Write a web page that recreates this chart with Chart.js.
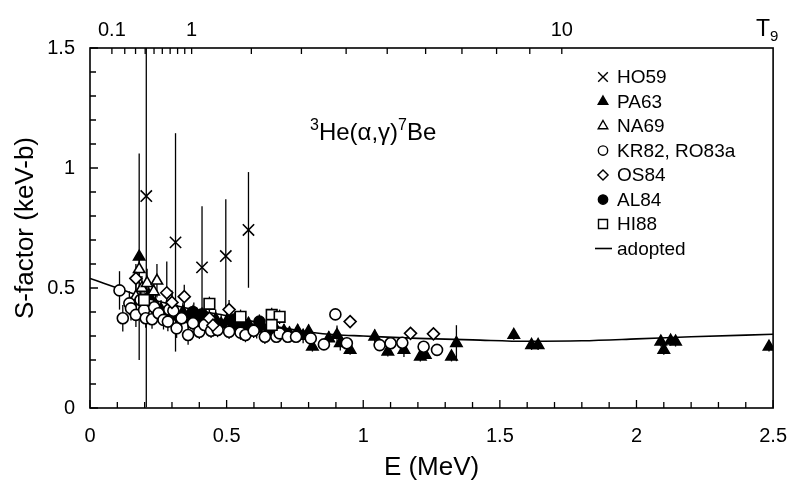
<!DOCTYPE html>
<html>
<head>
<meta charset="utf-8">
<script src="https://cdn.jsdelivr.net/npm/chart.js@4.4.0/dist/chart.umd.min.js"></script>
<style>
html, body { margin: 0; padding: 0; background: #fff; }
</style>
</head>
<body>
<canvas id="sfactorChart" width="803" height="487"></canvas>
<script>
// --- data ---
const ho59E = [0.206, 0.313, 0.41, 0.497, 0.58];
const ho59S = [0.883, 0.69, 0.586, 0.633, 0.742];
const ho59Err = [0.88, 0.455, 0.255, 0.237, 0.241];

const pa63E = [0.18, 0.215, 0.24, 0.26, 0.28, 0.30, 0.32, 0.34, 0.36, 0.38, 0.40, 0.42, 0.44, 0.46, 0.48, 0.50,
  0.52, 0.54, 0.56, 0.58, 0.61, 0.63, 0.65, 0.68, 0.71, 0.73, 0.76, 0.78, 0.80, 0.814, 0.874, 0.904, 0.916,
  0.952, 1.042, 1.09, 1.149, 1.209, 1.227, 1.323, 1.341, 1.551, 1.616, 1.64, 2.089, 2.10, 2.125, 2.143, 2.485];
const pa63S = [0.63, 0.47, 0.43, 0.41, 0.40, 0.42, 0.38, 0.40, 0.37, 0.39, 0.37, 0.38, 0.36, 0.37, 0.35, 0.36,
  0.34, 0.35, 0.34, 0.35, 0.33, 0.34, 0.32, 0.33, 0.32, 0.31, 0.32, 0.30, 0.318, 0.255, 0.29, 0.304, 0.27,
  0.242, 0.297, 0.235, 0.242, 0.214, 0.221, 0.214, 0.27, 0.304, 0.262, 0.262, 0.276, 0.242, 0.28, 0.276, 0.255];
const pa63Err = [0.43, 0.05, 0.05, 0.04, 0.05, 0.06, 0.05, 0.04, 0.04, 0.05, 0.04, 0.05, 0.04, 0.04, 0.04, 0.04,
  0.03, 0.04, 0.04, 0.03, 0.04, 0.03, 0.03, 0.03, 0.03, 0.03, 0.03, 0.03, 0.03, 0.02, 0.03, 0.04, 0.03,
  0.02, 0.03, 0.02, 0.03, 0.02, 0.02, 0.02, 0.075, 0.02, 0.02, 0.02, 0.02, 0.02, 0.02, 0.02, 0.02];

const na69E = [0.18, 0.168, 0.19, 0.209, 0.233, 0.245];
const na69S = [0.578, 0.464, 0.50, 0.52, 0.485, 0.53];
const na69Err = [0.06, 0.05, 0.05, 0.06, 0.05, 0.07];

const kr82E = [0.108, 0.12, 0.144, 0.15, 0.168, 0.185, 0.198, 0.204, 0.227, 0.235, 0.251, 0.269, 0.285, 0.29,
  0.305, 0.317, 0.335, 0.359, 0.377, 0.40, 0.419, 0.443, 0.467, 0.509, 0.551, 0.569, 0.599, 0.64, 0.682,
  0.694, 0.724, 0.754, 0.808, 0.856, 0.898, 0.94, 1.06, 1.10, 1.143, 1.221, 1.27];
const kr82S = [0.49, 0.374, 0.436, 0.415, 0.388, 0.45, 0.408, 0.374, 0.37, 0.42, 0.395, 0.367, 0.36, 0.41,
  0.405, 0.332, 0.374, 0.304, 0.353, 0.318, 0.346, 0.322, 0.325, 0.318, 0.314, 0.304, 0.322, 0.297, 0.297,
  0.311, 0.297, 0.297, 0.29, 0.265, 0.39, 0.27, 0.262, 0.27, 0.272, 0.255, 0.242];
const kr82Err = [0.08, 0.055, 0.05, 0.05, 0.05, 0.05, 0.04, 0.04, 0.04, 0.04, 0.04, 0.04, 0.04, 0.04,
  0.04, 0.04, 0.03, 0.04, 0.03, 0.03, 0.03, 0.03, 0.03, 0.03, 0.03, 0.03, 0.03, 0.03, 0.02,
  0.02, 0.02, 0.02, 0.02, 0.02, 0.02, 0.02, 0.02, 0.02, 0.02, 0.02, 0.02];

const os84E = [0.168, 0.281, 0.30, 0.345, 0.437, 0.45, 0.509, 0.952, 1.173, 1.257];
const os84S = [0.54, 0.48, 0.44, 0.464, 0.374, 0.345, 0.41, 0.36, 0.311, 0.309];
const os84Err = [0.06, 0.13, 0.05, 0.05, 0.04, 0.03, 0.04, 0.02, 0.02, 0.02];

const al84E = [0.377, 0.41, 0.43, 0.53, 0.62];
const al84S = [0.40, 0.39, 0.37, 0.37, 0.36];
const al84Err = [0.03, 0.03, 0.03, 0.03, 0.03];

const hi88E = [0.198, 0.437, 0.551, 0.665, 0.694, 0.665];
const hi88S = [0.45, 0.434, 0.38, 0.388, 0.38, 0.346];
const hi88Err = [0.04, 0.03, 0.03, 0.03, 0.03, 0.03];

const adoptedE = [0, 0.05, 0.1, 0.2, 0.3, 0.4, 0.5, 0.6, 0.7, 0.8, 0.9, 1.0, 1.2, 1.4, 1.6, 1.8, 2.0, 2.2, 2.5];
const adoptedS = [0.54, 0.52, 0.50, 0.46, 0.43, 0.405, 0.385, 0.36, 0.335, 0.317, 0.305, 0.30, 0.29, 0.284, 0.278, 0.28, 0.288, 0.297, 0.307];

const t9Ticks = [0.1, 0.2, 0.3, 0.4, 0.5, 0.6, 0.7, 0.8, 0.9, 1, 2, 3, 4, 5, 6, 7, 8, 9, 10];
const t9Labels = [0.1, 1, 10];

// --- helpers ---
const FONT = '"Liberation Sans", Arial, Helvetica, sans-serif';
const t9ToE = t => 0.372 * Math.pow(t, 2 / 3);   // Gamow peak energy for 3He+4He
const isHalf = v => Math.abs(v * 2 - Math.round(v * 2)) < 1e-6;
const fmt = v => String(Math.round(v * 10) / 10);
const toPoints = (xs, ys) => xs.map((e, i) => ({ x: e, y: ys[i] }));

function markerSet(label, xs, ys, errs, style, radius, filled) {
    return {
        label: label,
        data: toPoints(xs, ys),
        errors: errs,
        pointStyle: style,
        pointRadius: radius,
        pointBorderWidth: 1.6,
        borderColor: '#000',
        backgroundColor: filled ? '#000' : '#fff',
        showLine: false
    };
}

const datasets = [
    markerSet('HO59', ho59E, ho59S, ho59Err, 'crossRot', 8, false),
    markerSet('HI88', hi88E, hi88S, hi88Err, 'rect', 7.5, false),
    markerSet('OS84', os84E, os84S, os84Err, 'rectRot', 6, false),
    markerSet('KR82, RO83a', kr82E, kr82S, kr82Err, 'circle', 5.5, false),
    markerSet('NA69', na69E, na69S, na69Err, 'triangle', 6.5, false),
    markerSet('AL84', al84E, al84S, al84Err, 'circle', 5.5, true),
    markerSet('PA63', pa63E, pa63S, pa63Err, 'triangle', 6.5, true),
    {
        label: 'adopted',
        type: 'line',
        data: toPoints(adoptedE, adoptedS),
        borderColor: '#000',
        borderWidth: 1.6,
        pointRadius: 0,
        cubicInterpolationMode: 'monotone',
        fill: false
    }
];

const legendOrder = ['HO59', 'PA63', 'NA69', 'KR82, RO83a', 'OS84', 'AL84', 'HI88', 'adopted'];

// --- error bars, frame, inward ticks, legend and labels ---
const figureDecor = {
    id: 'figureDecor',
    beforeDatasetsDraw(chart) {
        const { ctx, chartArea: a, scales: { x, y } } = chart;
        ctx.save();
        ctx.beginPath();
        ctx.rect(a.left, a.top, a.right - a.left, a.bottom - a.top);
        ctx.clip();
        ctx.strokeStyle = '#000';
        ctx.lineWidth = 1.3;
        chart.data.datasets.forEach(ds => {
            if (!ds.errors) return;
            ds.data.forEach((p, i) => {
                const px = x.getPixelForValue(p.x);
                ctx.beginPath();
                ctx.moveTo(px, y.getPixelForValue(p.y - ds.errors[i]));
                ctx.lineTo(px, y.getPixelForValue(p.y + ds.errors[i]));
                ctx.stroke();
            });
        });
        ctx.restore();
    },
    afterDraw(chart) {
        const { ctx, chartArea: a, scales: { x, x2, y } } = chart;
        ctx.save();
        ctx.strokeStyle = '#000';
        ctx.fillStyle = '#000';
        ctx.lineWidth = 1.6;
        ctx.strokeRect(a.left, a.top, a.right - a.left, a.bottom - a.top);

        ctx.lineWidth = 1.3;
        ctx.beginPath();
        x.ticks.forEach(t => {
            const px = x.getPixelForValue(t.value);
            ctx.moveTo(px, a.bottom);
            ctx.lineTo(px, a.bottom - (isHalf(t.value) ? 8 : 6));
        });
        y.ticks.forEach(t => {
            const py = y.getPixelForValue(t.value);
            ctx.moveTo(a.left, py);
            ctx.lineTo(a.left + (isHalf(t.value) ? 8 : 6), py);
        });
        x2.ticks.forEach(t => {
            const px = x2.getPixelForValue(t.value);
            ctx.moveTo(px, a.top);
            ctx.lineTo(px, a.top + 6);
        });
        ctx.stroke();

        // legend
        const lx = 603, ly = 77, step = 24.5;
        ctx.font = '19px ' + FONT;
        ctx.textBaseline = 'middle';
        ctx.textAlign = 'left';
        legendOrder.forEach((name, i) => {
            const ds = chart.data.datasets.find(d => d.label === name);
            const yy = ly + i * step;
            ctx.strokeStyle = '#000';
            if (ds.type === 'line') {
                ctx.lineWidth = 1.6;
                ctx.beginPath();
                ctx.moveTo(lx - 8, yy);
                ctx.lineTo(lx + 9, yy);
                ctx.stroke();
            } else {
                ctx.fillStyle = ds.backgroundColor;
                ctx.lineWidth = 1.4;
                Chart.helpers.drawPoint(ctx, {
                    pointStyle: ds.pointStyle,
                    radius: ds.pointRadius * 0.85,
                    borderWidth: 1.4,
                    rotation: 0
                }, lx, yy);
            }
            ctx.fillStyle = '#000';
            ctx.fillText(name, lx + 14, yy + 1);
        });

        // reaction label
        let tx = 310;
        const base = 140;
        ctx.textBaseline = 'alphabetic';
        ctx.font = '16px ' + FONT;
        ctx.fillText('3', tx, base - 10);
        tx += ctx.measureText('3').width;
        ctx.font = '24px ' + FONT;
        ctx.fillText('He(\u03b1,\u03b3)', tx, base);
        tx += ctx.measureText('He(\u03b1,\u03b3)').width;
        ctx.font = '16px ' + FONT;
        ctx.fillText('7', tx, base - 10);
        tx += ctx.measureText('7').width;
        ctx.font = '24px ' + FONT;
        ctx.fillText('Be', tx, base);

        // T9 label
        ctx.font = '23px ' + FONT;
        ctx.fillText('T', 756, 36);
        ctx.font = '15px ' + FONT;
        ctx.fillText('9', 770, 41);
        ctx.restore();
    }
};

const ctx = document.getElementById('sfactorChart').getContext('2d');
new Chart(ctx, {
    type: 'scatter',
    data: { datasets: datasets },
    options: {
        responsive: false,
        animation: false,
        events: [],
        layout: { padding: { left: 0, right: 17, top: 0, bottom: 0 } },
        plugins: { legend: { display: false }, tooltip: { enabled: false } },
        scales: {
            x: {
                type: 'linear', position: 'bottom', min: 0, max: 2.5,
                grid: { display: false, drawTicks: false },
                border: { display: false },
                ticks: {
                    stepSize: 0.1, autoSkip: false, maxRotation: 0, padding: 16,
                    color: '#000', font: { family: FONT, size: 20 },
                    callback: v => isHalf(v) ? fmt(v) : ''
                },
                title: { display: true, text: 'E (MeV)', color: '#000', font: { family: FONT, size: 26 }, padding: { top: 0, bottom: 4 } },
                afterFit: s => { s.height = 79; }
            },
            x2: {
                type: 'linear', position: 'top', min: 0, max: 2.5,
                grid: { display: false, drawTicks: false },
                border: { display: false },
                afterBuildTicks: s => { s.ticks = t9Ticks.map(t => ({ value: t9ToE(t) })); },
                ticks: {
                    autoSkip: false, maxRotation: 0, padding: 6,
                    color: '#000', font: { family: FONT, size: 20 },
                    callback: (v, i) => t9Labels.includes(t9Ticks[i]) ? String(t9Ticks[i]) : ''
                },
                afterFit: s => { s.height = 48; }
            },
            y: {
                type: 'linear', position: 'left', min: 0, max: 1.5,
                grid: { display: false, drawTicks: false },
                border: { display: false },
                ticks: {
                    stepSize: 0.1, autoSkip: false, padding: 15,
                    color: '#000', font: { family: FONT, size: 20 },
                    callback: v => isHalf(v) ? fmt(v) : ''
                },
                title: { display: true, text: 'S-factor (keV-b)', color: '#000', font: { family: FONT, size: 26 }, padding: { top: 10, bottom: 0 } },
                afterFit: s => { s.width = 90; }
            }
        }
    },
    plugins: [figureDecor]
});
</script>
</body>
</html>
